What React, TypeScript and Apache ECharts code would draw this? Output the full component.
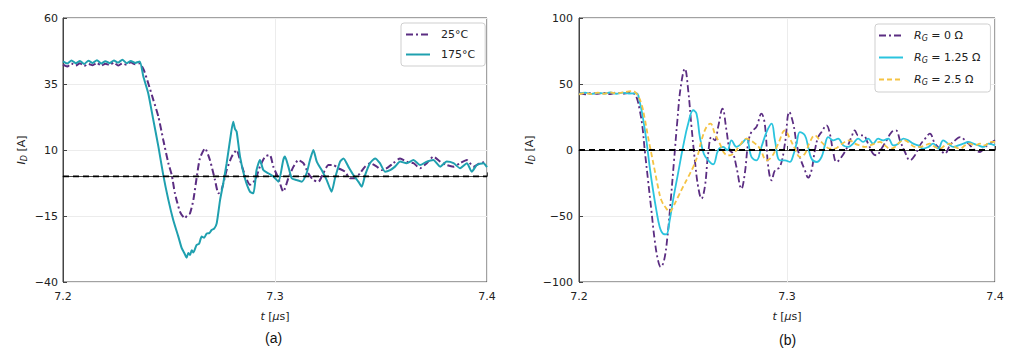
import React, { useEffect, useRef } from "react";
import * as echarts from "echarts";

// ---------- data (t in µs, I_D in A) ----------
const xTicks = [7.2, 7.3, 7.4];
const yTicksA = [-40, -15, 10, 35, 60];
const yTicksB = [-100, -50, 0, 50, 100];

const curve25C: [number, number][] = [
  [7.200, 42.3], [7.202, 41.6], [7.204, 42.8], [7.206, 42.0], [7.208, 42.9], [7.210, 41.8], [7.212, 42.6],
  [7.214, 42.1], [7.216, 43.0], [7.218, 41.9], [7.220, 42.7], [7.222, 42.2], [7.224, 43.1], [7.226, 42.0],
  [7.228, 42.8], [7.230, 42.3], [7.232, 43.2], [7.234, 42.5], [7.236, 42.8], [7.238, 40.5], [7.2402, 35.3],
  [7.2426, 29], [7.2450, 22.6], [7.2473, 13.8], [7.2497, 5], [7.2513, 0.5], [7.2528, -6.4], [7.2552, -13.4],
  [7.2575, -15.9], [7.2585, -14.8], [7.2599, -14], [7.2615, -8.9], [7.2630, -0.7], [7.2646, 6.9], [7.2670, 10.6],
  [7.2693, 6.2], [7.2717, -1.4], [7.2733, -6.4], [7.2748, -5.1], [7.2772, 2.4], [7.2796, 7.5], [7.2819, 10],
  [7.2835, 6.2], [7.2858, 0.5], [7.2882, -3.2], [7.2906, -1.4], [7.2929, 3.7], [7.2953, 7.5], [7.2976, 8.1],
  [7.2992, 3.7], [7.3016, -0.7], [7.3039, -5.8], [7.3063, -0.7], [7.3087, 3.7], [7.3110, 6.2], [7.3134, 5],
  [7.3157, 1.2], [7.3181, -1.4], [7.3205, -2], [7.3228, 1.2], [7.3252, 4.3], [7.3275, 4.3], [7.3299, 3.1],
  [7.3330, 1.8], [7.3354, -0.7], [7.3377, -0.7], [7.3401, 1.2], [7.3425, 3.7], [7.3448, 5], [7.3480, 3.7],
  [7.3503, 2.4], [7.3527, 3.1], [7.3558, 5], [7.3590, 6.8], [7.3621, 5.6], [7.3653, 5], [7.3684, 3.1],
  [7.3716, 5], [7.3747, 7.5], [7.3779, 5.6], [7.3810, 4.3], [7.3842, 3.7], [7.3873, 5], [7.3905, 6.2],
  [7.3936, 3.7], [7.3967, 5], [7.400, 5.6],
];

const curve175C: [number, number][] = [
  [7.200, 43.6], [7.202, 42.8], [7.204, 43.9], [7.206, 42.9], [7.208, 43.7], [7.210, 42.6], [7.212, 43.8],
  [7.214, 43.0], [7.216, 44.0], [7.218, 42.8], [7.220, 43.6], [7.222, 42.9], [7.224, 43.9], [7.226, 43.1],
  [7.228, 44.2], [7.230, 42.9], [7.232, 43.7], [7.234, 43.0], [7.2362, 43.5], [7.2379, 37.8], [7.2402, 31.5],
  [7.2426, 21.4], [7.2450, 11.3], [7.2473, 0.5], [7.2497, -8.9], [7.2520, -16.5], [7.2544, -22.8], [7.2560, -27.2],
  [7.2572, -29], [7.2583, -30.8], [7.2591, -29], [7.2599, -29.8], [7.2607, -28], [7.2615, -28.8], [7.2630, -26],
  [7.2642, -25.5], [7.2654, -22.8], [7.2666, -23.2], [7.2678, -21.6], [7.2690, -21.5], [7.2701, -20.3],
  [7.2713, -19.8], [7.2725, -17.8], [7.2741, -8.9], [7.2756, -2.6], [7.2772, 5], [7.2788, 13.8], [7.2803, 20.7],
  [7.2811, 18], [7.2819, 17], [7.2835, 7.5], [7.2858, -0.7], [7.2882, -5.8], [7.2898, -6.4], [7.2913, 2.4],
  [7.2929, 6.2], [7.2945, 2.4], [7.2968, 1.2], [7.2992, 0], [7.3016, -2], [7.3039, 6.2], [7.3047, 7.5],
  [7.3063, 3.7], [7.3079, -0.7], [7.3102, -1.4], [7.3126, -2], [7.3149, 1.2], [7.3165, 6.2], [7.3181, 10],
  [7.3197, 5.6], [7.3220, 2.4], [7.3244, -1.4], [7.3267, -5.8], [7.3283, -0.7], [7.3307, 5.6], [7.3323, 6.8],
  [7.3346, 3.7], [7.3370, 0.5], [7.3393, -2], [7.3409, -3.9], [7.3425, 0.5], [7.3448, 5], [7.3472, 6.8],
  [7.3495, 5], [7.3519, 1.8], [7.3543, 2.4], [7.3566, 3.7], [7.3590, 5.6], [7.3621, 5], [7.3653, 6.2],
  [7.3684, 4.3], [7.3716, 5.6], [7.3747, 6.2], [7.3779, 3.7], [7.3810, 5.6], [7.3842, 5], [7.3873, 3.1],
  [7.3905, 5], [7.3928, 1.8], [7.3952, 4.3], [7.3983, 5], [7.400, 3.5],
];

const curveRg0: [number, number][] = [
  [7.200, 43], [7.203, 42.2], [7.206, 43.4], [7.209, 42.5], [7.212, 43.2], [7.215, 42.4], [7.218, 43.5],
  [7.221, 42.6], [7.224, 43.3], [7.2262, 42.8], [7.2276, 40.2], [7.2292, 30.1], [7.2305, 17.5], [7.2316, 0],
  [7.2332, -23], [7.2348, -45.7], [7.2364, -68.4], [7.2380, -83.6], [7.2393, -88.6], [7.2409, -83.6],
  [7.2425, -65.9], [7.2441, -38.1], [7.2457, -7.8], [7.2473, 22.5], [7.2489, 47.7], [7.2509, 61.6],
  [7.2525, 45.2], [7.2541, 17.5], [7.2557, -7.8], [7.2573, -28], [7.2589, -36.8], [7.2605, -28], [7.2621, -2.8],
  [7.2637, 9.9], [7.2653, 7.3], [7.2669, 17.5], [7.2690, 31.3], [7.2709, 14.9], [7.2725, -0.2], [7.2741, -2.8],
  [7.2757, -12.9], [7.2781, -29.3], [7.2797, -17.9], [7.2813, 4.8], [7.2829, 13.7], [7.2853, 17.5],
  [7.2877, 27.5], [7.2893, 20], [7.2910, -12.9], [7.2926, -23], [7.2942, -15.4], [7.2966, -12.9], [7.2990, 4.8],
  [7.3011, 28.8], [7.3030, 20], [7.3046, 4.8], [7.3062, -5.3], [7.3086, -15.4], [7.3102, -21], [7.3118, -15.4],
  [7.3134, -0.3], [7.3150, 9.8], [7.3166, 13.6], [7.3190, 18.7], [7.3206, 12.4], [7.3222, -1.5], [7.3238, -9.1],
  [7.3262, -5.3], [7.3286, 1], [7.3310, 9.8], [7.3326, 14.9], [7.3342, 11.1], [7.3366, 11.1], [7.3390, 4.8],
  [7.3414, -2.8], [7.3430, -4], [7.3454, 1], [7.3479, 7.3], [7.3503, 13.6], [7.3524, 14.9], [7.3543, 7.3],
  [7.3567, -1.5], [7.3591, -7.8], [7.3615, -4], [7.3639, 3.5], [7.3664, 8.6], [7.3687, 12.4], [7.3711, 4.8],
  [7.3735, 1], [7.3759, -2.8], [7.3783, 3.5], [7.3808, 7.3], [7.3832, 9.8], [7.3856, 7.3], [7.3880, 3.5],
  [7.3904, -0.3], [7.3928, -1.5], [7.3952, 2.2], [7.3976, 4.8], [7.400, 7.3],
];

const curveRg125: [number, number][] = [
  [7.200, 42.6], [7.203, 43.4], [7.206, 42.5], [7.209, 43.3], [7.212, 42.7], [7.215, 43.6], [7.218, 42.6],
  [7.221, 43.4], [7.224, 42.8], [7.2276, 43], [7.2292, 36.4], [7.2308, 23.8], [7.2324, 7.3], [7.2340, -12.9],
  [7.2356, -30.5], [7.2372, -45.7], [7.2388, -58.3], [7.2404, -63.4], [7.2420, -63.9], [7.2436, -53.3],
  [7.2452, -38.1], [7.2476, -17.9], [7.2500, 2.3], [7.2525, 20], [7.2549, 30.1], [7.2565, 27.5], [7.2581, 9.9],
  [7.2600, -2.8], [7.2621, -7.8], [7.2645, -10.8], [7.2669, -0.2], [7.2693, 2.3], [7.2713, -0.2], [7.2733, 7.3],
  [7.2757, 2.3], [7.2781, 4.8], [7.2805, 8.6], [7.2829, -5.3], [7.2853, -7.8], [7.2877, 2.3], [7.2902, 13.7],
  [7.2926, 20], [7.2942, 7.3], [7.2966, -7.8], [7.2990, -7.8], [7.3014, -9], [7.3030, -4], [7.3046, 5],
  [7.3062, 13.6], [7.3086, 11.1], [7.3102, 2.3], [7.3118, -6.6], [7.3142, -9.1], [7.3166, -5.3], [7.3182, 3.5],
  [7.3198, 9.8], [7.3222, 7.3], [7.3246, 8.6], [7.3270, 3.5], [7.3294, 2.3], [7.3318, 4.8], [7.3342, 8.6],
  [7.3366, 6.1], [7.3390, 8.6], [7.3414, 4.8], [7.3438, 8.6], [7.3462, 7.3], [7.3487, 8.6], [7.3511, 3.5],
  [7.3535, 4.8], [7.3559, 8.6], [7.3583, 7.3], [7.3607, 4.8], [7.3631, 3.5], [7.3655, 1], [7.3679, 2.3],
  [7.3703, 4.8], [7.3727, 1], [7.3751, 7.3], [7.3775, 4.8], [7.3800, 2.3], [7.3824, 3.5], [7.3848, 4.8],
  [7.3872, 6.1], [7.3896, 4.8], [7.3920, 3.5], [7.3944, 2.3], [7.3968, 4.8], [7.400, 3.5],
];

const curveRg25: [number, number][] = [
  [7.200, 42.2], [7.203, 43.1], [7.206, 42.4], [7.209, 43.5], [7.212, 42.6], [7.215, 43.7], [7.218, 42.8],
  [7.221, 43.6], [7.224, 44.4], [7.226, 44.6], [7.228, 42], [7.2300, 35.1], [7.2316, 23.8], [7.2332, 9.9],
  [7.2348, -2.8], [7.2364, -15.4], [7.2380, -28], [7.2396, -38.1], [7.2420, -44.4], [7.2436, -46.9],
  [7.2452, -43.2], [7.2476, -35.6], [7.2500, -28], [7.2525, -20.4], [7.2549, -12.9], [7.2573, -2.8],
  [7.2589, 7.3], [7.2613, 17.5], [7.2632, 20], [7.2653, 12.4], [7.2677, 4.8], [7.2701, -2.8], [7.2725, -4],
  [7.2749, -1.5], [7.2773, 3.6], [7.2805, 8.6], [7.2837, 6.1], [7.2870, 1], [7.2902, -7.8], [7.2926, -5.3],
  [7.2958, 4.8], [7.2990, 14.9], [7.3014, 8.5], [7.3038, 1], [7.3062, -5.3], [7.3086, -2.8], [7.3110, 6.1],
  [7.3134, 11.1], [7.3158, 7.3], [7.3182, 3.5], [7.3206, 1], [7.3230, 1], [7.3254, 3.5], [7.3278, 6.1],
  [7.3302, 7.3], [7.3326, 4.8], [7.3350, 3.5], [7.3374, 2.3], [7.3398, 3.5], [7.3422, 4.8], [7.3446, 6.1],
  [7.3471, 3.5], [7.3495, 1], [7.3519, 2.3], [7.3543, 6.1], [7.3567, 7.3], [7.3591, 4.8], [7.3615, 2.3],
  [7.3639, 2.3], [7.3664, 3.5], [7.3687, 4.8], [7.3711, 2.3], [7.3735, 1], [7.3759, 3.5], [7.3783, 4.8],
  [7.3808, 2.3], [7.3832, 1], [7.3856, 3.5], [7.3880, 4.8], [7.3904, 3.5], [7.3928, 4.8], [7.3952, 3.5],
  [7.3976, 6.1], [7.400, 6.1],
];

const zeroLine: [number, number][] = [[7.2, 0], [7.4, 0]];

const legendNames: Record<string, string> = {
  "25°C": "25°C",
  "175°C": "175°C",
  Rg0: "{i|R}{s|G} = 0 Ω",
  Rg125: "{i|R}{s|G} = 1.25 Ω",
  Rg25: "{i|R}{s|G} = 2.5 Ω",
};

// ---------- styling ----------
const FONT = "DejaVu Sans";
const PURPLE = "#5b2d82";
const TEAL = "#1fa0af";
const CYAN = "#2bc4de";
const YELLOW = "#f5c343";
const FRAME = "#444444";

const rich = {
  i: { fontStyle: "italic" as const, fontFamily: FONT, fontSize: 11, color: "#222" },
  s: { fontStyle: "italic" as const, fontFamily: FONT, fontSize: 8, color: "#222", padding: [5, 0, 0, 0] },
  n: { fontFamily: FONT, fontSize: 11, color: "#222" },
};

const fmtY = (v: number) => String(v).replace("-", "\u2212");

function makeX(gridIndex: number) {
  return {
    type: "value",
    gridIndex,
    min: xTicks[0],
    max: xTicks[xTicks.length - 1],
    interval: 0.1,
    name: "{i|t} {n|[}{i|\u03bc}{n|s]}",
    nameLocation: "middle",
    nameGap: 29,
    nameTextStyle: { rich, fontFamily: FONT, fontSize: 11, color: "#222" },
    axisLine: { show: true, lineStyle: { color: FRAME, width: 1 } },
    axisTick: { show: true, inside: true, length: 4, lineStyle: { color: FRAME } },
    axisLabel: {
      margin: 9,
      fontFamily: FONT,
      fontSize: 11,
      color: "#222",
      formatter: (v: number) => v.toFixed(1),
    },
    splitLine: { show: true, lineStyle: { color: "#ececec", width: 1 } },
  };
}

function makeY(gridIndex: number, ticks: number[], nameGap: number, margin: number) {
  return {
    type: "value",
    gridIndex,
    min: ticks[0],
    max: ticks[ticks.length - 1],
    interval: ticks[1] - ticks[0],
    name: "{i|I}{s|D}{n| [A]}",
    nameLocation: "middle",
    nameRotate: 90,
    nameGap,
    nameTextStyle: { rich, fontFamily: FONT, fontSize: 11, color: "#222" },
    axisLine: { show: true, lineStyle: { color: FRAME, width: 1 } },
    axisTick: { show: true, inside: true, length: 4, lineStyle: { color: FRAME } },
    axisLabel: { margin, fontFamily: FONT, fontSize: 11, color: "#222", formatter: fmtY },
    splitLine: { show: true, lineStyle: { color: "#ececec", width: 1 } },
  };
}

function lineSeries(name: string, data: [number, number][], idx: number, color: string, type: any, width: number, smooth: number) {
  return {
    name,
    type: "line",
    xAxisIndex: idx,
    yAxisIndex: idx,
    data,
    showSymbol: false,
    symbol: "none",
    smooth,
    lineStyle: { color, width, type },
    itemStyle: { color },
  };
}

function zeroSeries(idx: number, width: number) {
  return {
    name: "zero" + idx,
    type: "line",
    xAxisIndex: idx,
    yAxisIndex: idx,
    data: zeroLine,
    showSymbol: false,
    symbol: "none",
    silent: true,
    z: 5,
    lineStyle: { color: "#000", width, type: [6, 4] },
  };
}

const legendBase = {
  orient: "vertical",
  backgroundColor: "#fff",
  borderColor: "#cfcfcf",
  borderWidth: 1,
  borderRadius: 3,
  itemWidth: 24,
  itemHeight: 12,
  itemGap: 9,
  selectedMode: false,
  itemStyle: { opacity: 0 },
  formatter: (n: string) => legendNames[n] ?? n,
  textStyle: { fontFamily: FONT, fontSize: 11, color: "#222", rich, padding: [0, 0, 0, 6] },
};

export default function App() {
  const ref = useRef<HTMLDivElement>(null);

  useEffect(() => {
    if (!ref.current) return;
    const chart = echarts.init(ref.current, undefined, { renderer: "svg" });
    const option: any = {
      animation: false,
      backgroundColor: "#fff",
      grid: [
        { left: 63, top: 18, width: 424, height: 264, show: true, borderColor: FRAME, borderWidth: 1, backgroundColor: "transparent" },
        { left: 579, top: 18, width: 416, height: 264, show: true, borderColor: FRAME, borderWidth: 1, backgroundColor: "transparent" },
      ],
      xAxis: [makeX(0), makeX(1)],
      yAxis: [makeY(0, yTicksA, 35, 5), makeY(1, yTicksB, 43, 6)],
      legend: [
        { ...legendBase, left: 401, top: 23, padding: [6, 10, 6, 4], data: ["25°C", "175°C"] },
        { ...legendBase, left: 875, top: 24, padding: [6, 10, 6, 3], itemGap: 10, data: ["Rg0", "Rg125", "Rg25"] },
      ],
      series: [
        lineSeries("25°C", curve25C, 0, PURPLE, [7, 3, 2, 3], 2, 0.2),
        lineSeries("175°C", curve175C, 0, TEAL, "solid", 2, 0.2),
        zeroSeries(0, 1.8),
        lineSeries("Rg0", curveRg0, 1, PURPLE, [7, 3, 2, 3], 1.8, 0.4),
        lineSeries("Rg125", curveRg125, 1, CYAN, "solid", 1.8, 0.4),
        lineSeries("Rg25", curveRg25, 1, YELLOW, [5, 3], 1.8, 0.4),
        zeroSeries(1, 1.8),
      ],
      graphic: [
        { type: "text", left: 265, top: 331, style: { text: "(a)", font: "14px 'Liberation Sans'", fill: "#111" } },
        { type: "text", left: 779, top: 333, style: { text: "(b)", font: "14px 'Liberation Sans'", fill: "#111" } },
      ],
    };
    chart.setOption(option);
    return () => chart.dispose();
  }, []);

  return (
    <div
      ref={ref}
      style={{ position: "fixed", left: 0, top: 0, width: 1017, height: 359, background: "#fff" }}
    />
  );
}
